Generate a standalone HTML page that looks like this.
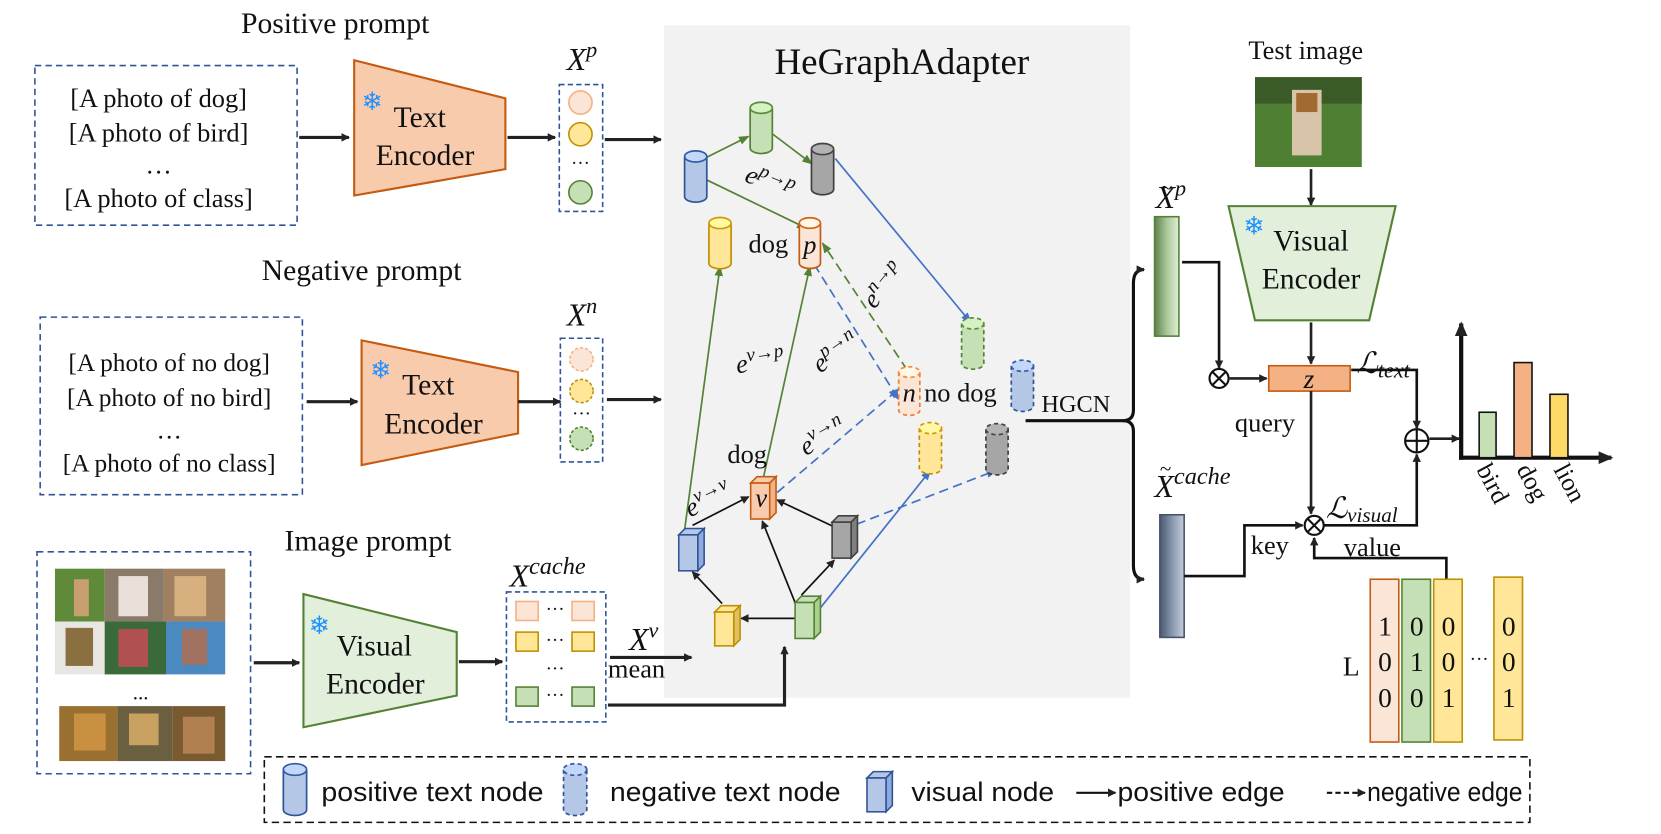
<!DOCTYPE html>
<html><head><meta charset="utf-8"><style>
html,body{margin:0;padding:0;background:#fff;width:1661px;height:834px;overflow:hidden}
svg{display:block}
.s{font-family:"Liberation Serif",serif;fill:#111}
.a{font-family:"Liberation Sans","DejaVu Sans",sans-serif;fill:#111}
.i{font-family:"Liberation Serif",serif;font-style:italic;fill:#111}
</style></head><body>
<svg id="g" width="1661" height="834" viewBox="0 0 1571 789" preserveAspectRatio="none" xmlns="http://www.w3.org/2000/svg">
<defs>
<marker id="ak" markerWidth="8" markerHeight="8" refX="7" refY="4" orient="auto" markerUnits="userSpaceOnUse"><path d="M0,0 L8,4 L0,8z" fill="#222"/></marker>
<marker id="akb" markerWidth="14" markerHeight="12" refX="12" refY="6" orient="auto" markerUnits="userSpaceOnUse"><path d="M0,0 L14,6 L0,12z" fill="#222"/></marker>
<marker id="ag" markerWidth="10" markerHeight="8" refX="9" refY="4" orient="auto" markerUnits="userSpaceOnUse"><path d="M0,0 L10,4 L0,8z" fill="#548235"/></marker>
<marker id="ab" markerWidth="10" markerHeight="8" refX="9" refY="4" orient="auto" markerUnits="userSpaceOnUse"><path d="M0,0 L10,4 L0,8z" fill="#4472c4"/></marker>
<linearGradient id="gp" x1="0" x2="1"><stop offset="0" stop-color="#5f7f50"/><stop offset="0.5" stop-color="#a9c89a"/><stop offset="1" stop-color="#dfeed7"/></linearGradient>
<linearGradient id="gc" x1="0" x2="1"><stop offset="0" stop-color="#4a5870"/><stop offset="0.5" stop-color="#8896ad"/><stop offset="1" stop-color="#c5cedb"/></linearGradient>
</defs>

<rect x="628" y="24" width="441" height="636" fill="#f2f2f2"/>
<text x="853" y="70" class="s" font-size="35" text-anchor="middle">HeGraphAdapter</text>

<text x="317" y="31" class="s" font-size="28" text-anchor="middle">Positive prompt</text>
<rect x="33" y="62" width="248" height="151" fill="none" stroke="#2f5597" stroke-width="1.5" stroke-dasharray="6,4"/>
<g class="s" font-size="25" text-anchor="middle"><text x="150" y="101">[A photo of dog]</text><text x="150" y="134">[A photo of bird]</text><text x="150" y="164">…</text><text x="150" y="196">[A photo of class]</text></g>
<path d="M335,57 L478,93 L478,160 L335,185z" fill="#f8cbad" stroke="#c55a11" stroke-width="2"/>
<text x="397" y="120" class="s" font-size="28" text-anchor="middle">Text</text><text x="402" y="156" class="s" font-size="28" text-anchor="middle">Encoder</text>
<text x="352" y="104" font-size="24" fill="#1e90ff" text-anchor="middle" font-family="DejaVu Sans">❄</text>
<line x1="283" y1="130" x2="330" y2="130" stroke="#222" stroke-width="3" marker-end="url(#ak)"/>
<line x1="480" y1="130" x2="525" y2="130" stroke="#222" stroke-width="3" marker-end="url(#ak)"/>
<text x="536" y="66" class="i" font-size="30">X<tspan dy="-12" font-size="21">p</tspan></text>
<rect x="529" y="80" width="41" height="120" fill="none" stroke="#2f5597" stroke-width="1.5" stroke-dasharray="5,3"/>
<circle cx="549" cy="97" r="11" fill="#fbe5d6" stroke="#f4b183" stroke-width="1.5"/>
<circle cx="549" cy="127" r="11" fill="#ffe699" stroke="#bf9000" stroke-width="1.5"/>
<text x="549" y="160" class="s" font-size="18" text-anchor="middle">···</text>
<circle cx="549" cy="182" r="11" fill="#c5e0b4" stroke="#548235" stroke-width="1.5"/>
<line x1="572" y1="132" x2="625" y2="132" stroke="#222" stroke-width="3" marker-end="url(#ak)"/>

<text x="342" y="265" class="s" font-size="28" text-anchor="middle">Negative prompt</text>
<rect x="38" y="300" width="248" height="168" fill="none" stroke="#2f5597" stroke-width="1.5" stroke-dasharray="6,4"/>
<g class="s" font-size="24" text-anchor="middle"><text x="160" y="351">[A photo of no dog]</text><text x="160" y="384">[A photo of no bird]</text><text x="160" y="415">…</text><text x="160" y="446">[A photo of no class]</text></g>
<path d="M342,322 L490,352 L490,410 L342,440z" fill="#f8cbad" stroke="#c55a11" stroke-width="2"/>
<text x="405" y="373" class="s" font-size="28" text-anchor="middle">Text</text><text x="410" y="410" class="s" font-size="28" text-anchor="middle">Encoder</text>
<text x="360" y="358" font-size="24" fill="#1e90ff" text-anchor="middle" font-family="DejaVu Sans">❄</text>
<line x1="290" y1="380" x2="338" y2="380" stroke="#222" stroke-width="3" marker-end="url(#ak)"/>
<line x1="490" y1="380" x2="530" y2="380" stroke="#222" stroke-width="3" marker-end="url(#ak)"/>
<text x="536" y="308" class="i" font-size="30">X<tspan dy="-12" font-size="21">n</tspan></text>
<rect x="530" y="320" width="40" height="117" fill="none" stroke="#2f5597" stroke-width="1.5" stroke-dasharray="5,3"/>
<circle cx="550" cy="340" r="11" fill="#fbe5d6" stroke="#f4b183" stroke-width="1.5" stroke-dasharray="3,2"/>
<circle cx="550" cy="370" r="11" fill="#ffe699" stroke="#bf9000" stroke-width="1.5" stroke-dasharray="3,2"/>
<text x="550" y="397" class="s" font-size="18" text-anchor="middle">···</text>
<circle cx="550" cy="415" r="11" fill="#c5e0b4" stroke="#548235" stroke-width="1.5" stroke-dasharray="3,2"/>
<line x1="574" y1="378" x2="625" y2="378" stroke="#222" stroke-width="3" marker-end="url(#ak)"/>

<text x="348" y="521" class="s" font-size="28" text-anchor="middle">Image prompt</text>
<rect x="35" y="522" width="202" height="210" fill="none" stroke="#2f5597" stroke-width="1.5" stroke-dasharray="6,4"/>
<rect x="52" y="538" width="47" height="50" fill="#5f8a3a"/><rect x="70" y="548" width="14" height="35" fill="#c8a070"/>
<rect x="99" y="538" width="56" height="50" fill="#8a7a6a"/><rect x="112" y="545" width="28" height="38" fill="#e8e0d8"/>
<rect x="155" y="538" width="58" height="50" fill="#a08060"/><rect x="165" y="545" width="30" height="38" fill="#d8b080"/>
<rect x="52" y="588" width="47" height="50" fill="#e8e6e2"/><rect x="62" y="594" width="26" height="36" fill="#8a7040"/>
<rect x="99" y="588" width="58" height="50" fill="#3a6a3a"/><rect x="112" y="595" width="28" height="36" fill="#b05050"/>
<rect x="157" y="588" width="56" height="50" fill="#4a8ac0"/><rect x="172" y="595" width="24" height="34" fill="#a07060"/>
<text x="133" y="662" class="s" font-size="20" text-anchor="middle">...</text>
<rect x="56" y="668" width="55" height="52" fill="#9a7030"/><rect x="111" y="668" width="52" height="52" fill="#6a6040"/><rect x="163" y="668" width="50" height="52" fill="#7a5a30"/>
<rect x="70" y="675" width="30" height="35" fill="#c89040"/><rect x="122" y="675" width="28" height="30" fill="#c8a060"/><rect x="173" y="678" width="30" height="35" fill="#b08050"/>
<line x1="240" y1="627" x2="283" y2="627" stroke="#222" stroke-width="3" marker-end="url(#ak)"/>
<path d="M287,562 L432,598 L432,658 L287,688z" fill="#e2efda" stroke="#548235" stroke-width="2"/>
<text x="354" y="620" class="s" font-size="28" text-anchor="middle">Visual</text><text x="355" y="656" class="s" font-size="28" text-anchor="middle">Encoder</text>
<text x="302" y="600" font-size="24" fill="#1e90ff" text-anchor="middle" font-family="DejaVu Sans">❄</text>
<line x1="434" y1="626" x2="475" y2="626" stroke="#222" stroke-width="3" marker-end="url(#ak)"/>
<text x="482" y="555" class="i" font-size="30">X<tspan dy="-12" font-size="23">cache</tspan></text>
<rect x="479" y="560" width="94" height="123" fill="none" stroke="#2f5597" stroke-width="1.5" stroke-dasharray="5,3"/>
<g stroke-width="1.5">
<rect x="488" y="569" width="21" height="18" fill="#fbe5d6" stroke="#f4b183"/><rect x="541" y="569" width="21" height="18" fill="#fbe5d6" stroke="#f4b183"/>
<rect x="488" y="598" width="21" height="18" fill="#ffe699" stroke="#bf9000"/><rect x="541" y="598" width="21" height="18" fill="#ffe699" stroke="#bf9000"/>
<rect x="488" y="650" width="21" height="18" fill="#c5e0b4" stroke="#548235"/><rect x="541" y="650" width="21" height="18" fill="#c5e0b4" stroke="#548235"/></g>
<g class="s" font-size="18" text-anchor="middle"><text x="525" y="582">···</text><text x="525" y="611">···</text><text x="525" y="638">···</text><text x="525" y="663">···</text></g>
<text x="595" y="615" class="i" font-size="30">X<tspan dy="-12" font-size="21">v</tspan></text>
<text x="575" y="641" class="s" font-size="25">mean</text>
<line x1="577" y1="622" x2="654" y2="622" stroke="#222" stroke-width="3" marker-end="url(#ak)"/>
<polyline points="575,667 742,667 742,612" fill="none" stroke="#222" stroke-width="3" marker-end="url(#ak)"/>

<g fill="none" stroke-width="1.6">
<g stroke="#548235" marker-end="url(#ag)">
<line x1="668" y1="149" x2="708" y2="129"/><line x1="731" y1="127" x2="768" y2="155"/>
<line x1="668" y1="170" x2="763" y2="216"/><line x1="645" y1="520" x2="681" y2="252"/>
<line x1="722" y1="452" x2="766" y2="252"/>
<line x1="858" y1="350" x2="778" y2="230" stroke-dasharray="9,5"/>
</g>
<g stroke="#4472c4" marker-end="url(#ab)">
<line x1="790" y1="150" x2="918" y2="305"/><line x1="776" y1="575" x2="880" y2="445"/>
<line x1="770" y1="250" x2="850" y2="378" stroke-dasharray="9,5"/>
<line x1="735" y1="466" x2="850" y2="368" stroke-dasharray="9,5"/>
<line x1="810" y1="496" x2="942" y2="445" stroke-dasharray="9,5"/>
</g>
<g stroke="#111" marker-end="url(#ak)">
<line x1="655" y1="497" x2="708" y2="470"/><line x1="788" y1="498" x2="735" y2="473"/>
<line x1="754" y1="575" x2="721" y2="493"/><line x1="758" y1="563" x2="789" y2="530"/>
<line x1="752" y1="585" x2="701" y2="585"/><line x1="683" y1="571" x2="655" y2="541"/>
</g></g>

<g id="nodes"></g>

<g class="s" font-size="25"><text x="708" y="239">dog</text><text x="688" y="438">dog</text><text x="874" y="380">no dog</text></g>
<g class="i" font-size="25" text-anchor="middle">
<text x="766" y="240">p</text><text x="860" y="380">n</text><text x="720" y="479">v</text>
</g>
<g class="i" font-size="25" text-anchor="middle">
<text transform="translate(725,180) rotate(22)">e<tspan dy="-10" font-size="18">p→p</tspan></text>
<text transform="translate(720,350) rotate(-8)">e<tspan dy="-10" font-size="18">v→p</tspan></text>
<text transform="translate(795,340) rotate(-35)">e<tspan dy="-10" font-size="18">p→n</tspan></text>
<text transform="translate(842,275) rotate(-50)">e<tspan dy="-10" font-size="18">n→p</tspan></text>
<text transform="translate(782,420) rotate(-30)">e<tspan dy="-10" font-size="18">v→n</tspan></text>
<text transform="translate(673,480) rotate(-25)">e<tspan dy="-10" font-size="18">v→v</tspan></text>
</g>

<text x="985" y="390" class="s" font-size="23">HGCN</text>
<path d="M970,398 L1062,398 Q1072,398 1072,388 L1072,268 Q1072,255 1082,255" fill="none" stroke="#111" stroke-width="3" marker-end="url(#ak)"/>
<path d="M1062,398 Q1072,398 1072,408 L1072,535 Q1072,548 1082,548" fill="none" stroke="#111" stroke-width="3" marker-end="url(#ak)"/>
<text x="1093" y="197" class="i" font-size="30">X<tspan dy="-12" font-size="21">p</tspan></text>
<text x="1098" y="184" class="s" font-size="20">~</text>
<rect x="1092" y="205" width="23" height="113" fill="url(#gp)" stroke="#548235" stroke-width="1.5"/>
<text x="1092" y="470" class="i" font-size="30">X<tspan dy="-12" font-size="23">cache</tspan></text>
<text x="1097" y="450" class="s" font-size="20">~</text>
<rect x="1097" y="487" width="23" height="116" fill="url(#gc)" stroke="#44546a" stroke-width="1.5"/>

<text x="1235" y="56" class="s" font-size="25" text-anchor="middle">Test image</text>
<rect x="1187" y="73" width="101" height="85" fill="#4f7f32"/><rect x="1187" y="73" width="101" height="25" fill="#3a5a28"/>
<rect x="1222" y="85" width="28" height="62" fill="#d8c4a8"/><rect x="1226" y="88" width="20" height="18" fill="#a06a30"/>
<line x1="1240" y1="160" x2="1240" y2="194" stroke="#222" stroke-width="2.5" marker-end="url(#ak)"/>
<path d="M1162,195 L1320,195 L1295,303 L1187,303z" fill="#e2efda" stroke="#548235" stroke-width="2"/>
<text x="1240" y="237" class="s" font-size="28" text-anchor="middle">Visual</text><text x="1240" y="273" class="s" font-size="28" text-anchor="middle">Encoder</text>
<text x="1186" y="222" font-size="24" fill="#1e90ff" text-anchor="middle" font-family="DejaVu Sans">❄</text>
<line x1="1240" y1="305" x2="1240" y2="344" stroke="#222" stroke-width="2.5" marker-end="url(#ak)"/>
<rect x="1200" y="346" width="77" height="24" fill="#f4b183" stroke="#c55a11" stroke-width="1.5"/>
<text x="1238" y="367" class="i" font-size="26" text-anchor="middle">z</text>
<polyline points="1118,248 1153,248 1153,348" fill="none" stroke="#111" stroke-width="2.5" marker-end="url(#ak)"/>
<circle cx="1153" cy="358" r="9" fill="#fff" stroke="#111" stroke-width="2"/><path d="M1147,352 L1159,364 M1159,352 L1147,364" stroke="#111" stroke-width="2"/>
<line x1="1163" y1="358" x2="1198" y2="358" stroke="#222" stroke-width="2.5" marker-end="url(#ak)"/>
<text x="1283" y="353" class="i" font-size="28">ℒ<tspan dy="4" font-size="21">text</tspan></text>
<polyline points="1278,350 1340,350 1340,405" fill="none" stroke="#111" stroke-width="2.5" marker-end="url(#ak)"/>
<circle cx="1340" cy="417" r="11" fill="#fff" stroke="#111" stroke-width="2"/><path d="M1329,417 L1351,417 M1340,406 L1340,428" stroke="#111" stroke-width="2"/>
<line x1="1352" y1="415" x2="1380" y2="415" stroke="#222" stroke-width="2.5" marker-end="url(#ak)"/>
<text x="1168" y="408" class="s" font-size="25">query</text>
<line x1="1240" y1="370" x2="1240" y2="486" stroke="#222" stroke-width="2.5" marker-end="url(#ak)"/>
<circle cx="1243" cy="497" r="9" fill="#fff" stroke="#111" stroke-width="2"/><path d="M1237,491 L1249,503 M1249,491 L1237,503" stroke="#111" stroke-width="2"/>
<text x="1254" y="490" class="i" font-size="28">ℒ<tspan dy="4" font-size="20">visual</tspan></text>
<polyline points="1252,497 1340,497 1340,430" fill="none" stroke="#111" stroke-width="2.5" marker-end="url(#ak)"/>
<text x="1183" y="524" class="s" font-size="25">key</text>
<polyline points="1120,545 1177,545 1177,497 1232,497" fill="none" stroke="#111" stroke-width="2.5" marker-end="url(#ak)"/>
<text x="1271" y="526" class="s" font-size="25">value</text>
<polyline points="1368,548 1368,528 1243,528 1243,509" fill="none" stroke="#111" stroke-width="2.5" marker-end="url(#ak)"/>
<rect x="1296" y="548" width="27" height="154" fill="#fbe5d6" stroke="#c55a11" stroke-width="1.5"/>
<rect x="1326" y="548" width="27" height="154" fill="#c5e0b4" stroke="#548235" stroke-width="1.5"/>
<rect x="1356" y="548" width="27" height="154" fill="#ffe699" stroke="#bf9000" stroke-width="1.5"/>
<rect x="1413" y="546" width="27" height="154" fill="#ffe699" stroke="#bf9000" stroke-width="1.5"/>
<g class="s" font-size="26" text-anchor="middle">
<text x="1310" y="601">1</text><text x="1310" y="635">0</text><text x="1310" y="669">0</text>
<text x="1340" y="601">0</text><text x="1340" y="635">1</text><text x="1340" y="669">0</text>
<text x="1370" y="601">0</text><text x="1370" y="635">0</text><text x="1370" y="669">1</text>
<text x="1427" y="601">0</text><text x="1427" y="635">0</text><text x="1427" y="669">1</text>
<text x="1399" y="629" font-size="18">···</text><text x="1278" y="639">L</text></g>

<line x1="1382" y1="435" x2="1382" y2="306" stroke="#111" stroke-width="4" marker-end="url(#akb)"/>
<line x1="1380" y1="433" x2="1524" y2="433" stroke="#111" stroke-width="4" marker-end="url(#akb)"/>
<rect x="1399" y="390" width="16" height="43" fill="#c5e0b4" stroke="#111" stroke-width="1.5"/>
<rect x="1432" y="343" width="17" height="90" fill="#f4b183" stroke="#111" stroke-width="1.5"/>
<rect x="1466" y="373" width="17" height="60" fill="#ffd966" stroke="#111" stroke-width="1.5"/>
<g class="s" font-size="24"><text transform="translate(1396,444) rotate(62)">bird</text><text transform="translate(1434,444) rotate(62)">dog</text><text transform="translate(1469,444) rotate(62)">lion</text></g>

<rect x="250" y="716" width="1197" height="62" fill="none" stroke="#111" stroke-width="1.5" stroke-dasharray="7,4"/>
<g class="a" font-size="25"><text x="304" y="758" textLength="210" lengthAdjust="spacingAndGlyphs">positive text node</text><text x="577" y="758" textLength="218" lengthAdjust="spacingAndGlyphs">negative text node</text><text x="862" y="758" textLength="135" lengthAdjust="spacingAndGlyphs">visual node</text><text x="1057" y="758" textLength="158" lengthAdjust="spacingAndGlyphs">positive edge</text><text x="1293" y="758" textLength="147" lengthAdjust="spacingAndGlyphs">negative edge</text></g>
<line x1="1018" y1="750" x2="1055" y2="750" stroke="#111" stroke-width="2" marker-end="url(#ak)"/>
<line x1="1255" y1="750" x2="1291" y2="750" stroke="#111" stroke-width="2" stroke-dasharray="5,3" marker-end="url(#ak)"/>
<g id="legnodes"></g>
</svg>
<script>
var NS="http://www.w3.org/2000/svg";
function el(p,t,a){var e=document.createElementNS(NS,t);for(var k in a)e.setAttribute(k,a[k]);p.appendChild(e);return e;}
var N=document.getElementById("nodes"),L=document.getElementById("legnodes");
function cyl(p,cx,cy,w,h,f,s,d){var rx=w/2,ry=w/4,t=cy-h/2,b=cy+h/2;var da=d?"4,3":"none";
el(p,"path",{d:"M"+(cx-rx)+","+t+" L"+(cx-rx)+","+b+" A"+rx+","+ry+" 0 0 0 "+(cx+rx)+","+b+" L"+(cx+rx)+","+t,fill:f,stroke:s,"stroke-width":1.6,"stroke-dasharray":da});
el(p,"ellipse",{cx:cx,cy:t,rx:rx,ry:ry,fill:f,stroke:s,"stroke-width":1.6,"stroke-dasharray":da,style:"filter:brightness(1.08)"});}
function cube(p,cx,cy,w,h,f,s,sd){var x=cx-w/2,y=cy-h/2+5,d=6;
el(p,"path",{d:"M"+x+","+y+" l"+d+","+(-d)+" h"+w+" l"+(-d)+","+d+"z",fill:f,stroke:s,"stroke-width":1.5});
el(p,"path",{d:"M"+(x+w)+","+y+" l"+d+","+(-d)+" v"+h+" l"+(-d)+","+d+"z",fill:sd,stroke:s,"stroke-width":1.5});
el(p,"rect",{x:x,y:y,width:w,height:h,fill:f,stroke:s,"stroke-width":1.5});}
var B=["#b4c7e7","#2f5597"],G=["#c5e0b4","#548235"],K=["#a6a6a6","#404040"],Y=["#ffe699","#bf9000"],O=["#fbe5d6","#c55a11"];
cyl(N,658,167,21,38,B[0],B[1]);cyl(N,720,121,21,38,G[0],G[1]);cyl(N,778,160,21,38,K[0],K[1]);
cyl(N,681,230,21,38,Y[0],Y[1]);cyl(N,766,230,20,38,O[0],O[1]);
cyl(N,920,325,21,38,G[0],G[1],1);cyl(N,860,370,20,36,O[0],"#ed7d31",1);cyl(N,967,365,21,38,B[0],B[1],1);
cyl(N,880,424,21,38,Y[0],Y[1],1);cyl(N,943,425,21,38,K[0],K[1],1);
cube(N,719,469,18,34,"#f8cbad","#c55a11","#f4b183");cube(N,651,518,18,34,"#b4c7e7","#2f5597","#8faadc");
cube(N,796,506,18,34,"#a6a6a6","#404040","#7f7f7f");cube(N,685,590,18,32,"#ffe699","#bf9000","#e0c060");
cube(N,761,582,18,34,"#c5e0b4","#548235","#a9d08e");
cyl(L,279,747,22,38,B[0],B[1]);cyl(L,544,747,22,38,B[0],B[1],1);cube(L,829,747,18,32,"#b4c7e7","#2f5597","#8faadc");
</script>
</body></html>
